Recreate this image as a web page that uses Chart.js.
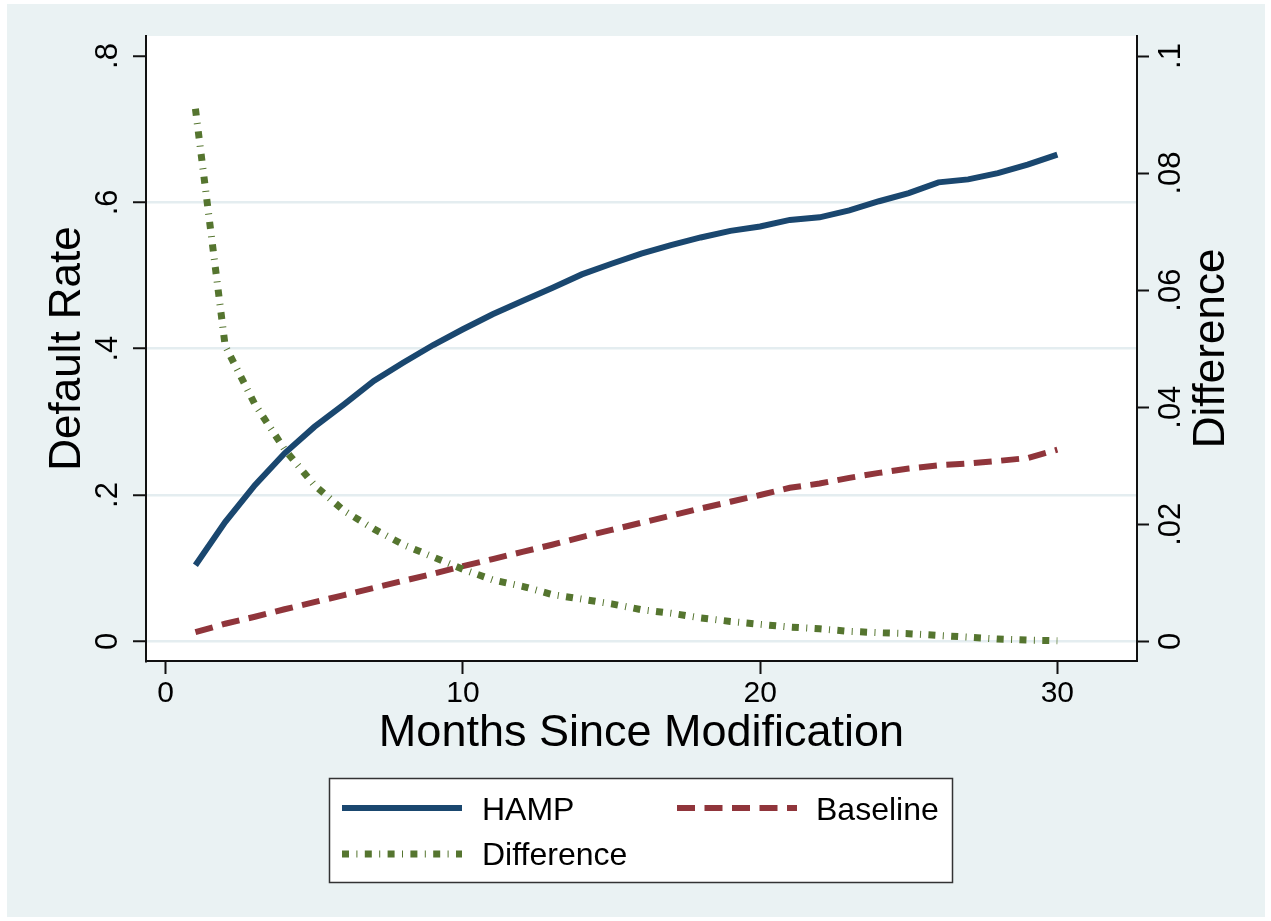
<!DOCTYPE html>
<html>
<head>
<meta charset="utf-8">
<title>Default Rate by Months Since Modification</title>
<script src="https://cdn.jsdelivr.net/npm/chart.js@4.4.1/dist/chart.umd.min.js"></script>
<style>
  html, body { margin: 0; padding: 0; background: #ffffff; }
  canvas { display: block; }
</style>
</head>
<body>
<canvas id="chart" width="1271" height="921"></canvas>
<script>
// Months since modification
const months = [1, 2, 3, 4, 5, 6, 7, 8, 9, 10, 11, 12, 13, 14, 15,
                16, 17, 18, 19, 20, 21, 22, 23, 24, 25, 26, 27, 28, 29, 30];

// Cumulative default rate, HAMP modifications (left axis)
const hamp = [0.104, 0.163, 0.2135, 0.257, 0.293, 0.324, 0.356, 0.381, 0.405, 0.4265,
              0.447, 0.465, 0.483, 0.5015, 0.516, 0.530, 0.5415, 0.552, 0.561, 0.567,
              0.576, 0.5795, 0.589, 0.6015, 0.6127, 0.6273, 0.6314, 0.640, 0.6515, 0.6652];

// Cumulative default rate, baseline (left axis)
const baseline = [0.0124, 0.024, 0.0335, 0.0438, 0.0535, 0.0632, 0.073, 0.0827, 0.0924, 0.1027,
                  0.1124, 0.1222, 0.132, 0.1424, 0.1522, 0.162, 0.1717, 0.1815, 0.1907, 0.200,
                  0.2098, 0.2156, 0.2234, 0.2302, 0.2361, 0.2405, 0.243, 0.2465, 0.2505, 0.262];

// Difference series (right axis)
const difference = [0.091, 0.0505, 0.0405, 0.0328, 0.0267, 0.0223, 0.0192, 0.0165, 0.0144, 0.0123,
                    0.0105, 0.0094, 0.0080, 0.0072, 0.0064, 0.0054, 0.0048, 0.0040, 0.0034, 0.0029,
                    0.00244, 0.00213, 0.0017, 0.00146, 0.0013, 0.0010, 0.0007, 0.0004, 0.0002, 0.0001];

// Axis ticks and their printed labels
const xTickValues = [0, 10, 20, 30];
const xTickLabels = ['0', '10', '20', '30'];
const leftTickValues = [0, 0.2, 0.4, 0.6, 0.8];
const leftTickLabels = ['0', '.2', '.4', '.6', '.8'];
const rightTickValues = [0, 0.02, 0.04, 0.06, 0.08, 0.1];
const rightTickLabels = ['0', '.02', '.04', '.06', '.08', '.1'];

// Titles and legend text
const xTitle = 'Months Since Modification';
const leftTitle = 'Default Rate';
const rightTitle = 'Difference';
const seriesNames = ['HAMP', 'Baseline', 'Difference'];

const FONT = '"Liberation Sans", Arial, Helvetica, sans-serif';
const PANEL_BG = '#eaf2f3';
const GRID = '#e4edf0';
const AXIS = '#111111';

const toPoints = (ys) => months.map((m, i) => ({ x: m, y: ys[i] }));

// Page background, panel and white plot region
const backdrop = {
  id: 'backdrop',
  beforeDraw(chart) {
    const { ctx, width, height, chartArea: a } = chart;
    ctx.save();
    ctx.fillStyle = '#ffffff';
    ctx.fillRect(0, 0, width, height);
    ctx.fillStyle = PANEL_BG;
    ctx.fillRect(7, 4, width - 13, height - 8);
    ctx.fillStyle = '#ffffff';
    ctx.fillRect(a.left, a.top, a.right - a.left, a.bottom - a.top);
    ctx.restore();
  }
};

function rotatedText(ctx, text, x, y) {
  ctx.save();
  ctx.translate(x, y);
  ctx.rotate(-Math.PI / 2);
  ctx.textAlign = 'center';
  ctx.textBaseline = 'alphabetic';
  ctx.fillText(text, 0, 0);
  ctx.restore();
}

// Tick labels, axis titles and the boxed legend
const annotations = {
  id: 'annotations',
  afterDraw(chart) {
    const { ctx, chartArea: a, scales } = chart;
    ctx.save();
    ctx.fillStyle = '#000000';

    ctx.font = '30px ' + FONT;
    ctx.textAlign = 'center';
    ctx.textBaseline = 'alphabetic';
    xTickValues.forEach((v, i) => {
      ctx.fillText(xTickLabels[i], scales.x.getPixelForValue(v), 702);
    });
    ctx.font = '31px ' + FONT;
    leftTickValues.forEach((v, i) => {
      rotatedText(ctx, leftTickLabels[i], 117, scales.y.getPixelForValue(v));
    });
    rightTickValues.forEach((v, i) => {
      rotatedText(ctx, rightTickLabels[i], 1180, scales.y1.getPixelForValue(v));
    });

    ctx.font = '44px ' + FONT;
    const midY = (a.top + a.bottom) / 2;
    rotatedText(ctx, leftTitle, 80, midY);
    rotatedText(ctx, rightTitle, 1224, midY);
    ctx.font = '45px ' + FONT;
    ctx.textAlign = 'center';
    ctx.fillText(xTitle, (a.left + a.right) / 2, 746);

    // legend box
    ctx.fillStyle = '#ffffff';
    ctx.fillRect(329, 778, 624, 105);
    ctx.strokeStyle = '#333333';
    ctx.lineWidth = 1.5;
    ctx.strokeRect(329.5, 778.5, 623, 104);

    const slots = [
      { x: 342, y: 808, tx: 482, ty: 820 },
      { x: 677, y: 808, tx: 816, ty: 820 },
      { x: 342, y: 854, tx: 482, ty: 865 }
    ];
    chart.data.datasets.forEach((ds, i) => {
      const s = slots[i];
      ctx.save();
      ctx.strokeStyle = ds.borderColor;
      ctx.lineWidth = ds.borderWidth;
      ctx.setLineDash(ds.borderDash || []);
      ctx.lineCap = 'butt';
      ctx.beginPath();
      ctx.moveTo(s.x, s.y);
      ctx.lineTo(s.x + 120, s.y);
      ctx.stroke();
      ctx.restore();
      ctx.fillStyle = '#000000';
      ctx.font = '32px ' + FONT;
      ctx.textAlign = 'left';
      ctx.textBaseline = 'alphabetic';
      ctx.fillText(ds.label, s.tx, s.ty);
    });
    ctx.restore();
  }
};

const fixedTicks = (values) => (scale) => {
  scale.ticks = values.map((v) => ({ value: v }));
};

new Chart(document.getElementById('chart'), {
  type: 'line',
  data: {
    datasets: [
      {
        label: seriesNames[0],
        data: toPoints(hamp),
        yAxisID: 'y',
        borderColor: '#1a476f',
        borderWidth: 6,
        order: 3
      },
      {
        label: seriesNames[1],
        data: toPoints(baseline),
        yAxisID: 'y',
        borderColor: '#90353b',
        borderWidth: 6,
        borderDash: [18, 9.5],
        order: 2
      },
      {
        label: seriesNames[2],
        data: toPoints(difference),
        yAxisID: 'y1',
        borderColor: '#55752f',
        borderWidth: 7,
        borderDash: [7, 7.4, 1, 7.4],
        order: 1
      }
    ]
  },
  options: {
    responsive: false,
    devicePixelRatio: 1,
    animation: false,
    events: [],
    layout: { padding: { left: 133, top: 36, right: 122, bottom: 247 } },
    elements: {
      point: { radius: 0 },
      line: { tension: 0, fill: false, borderCapStyle: 'butt', borderJoinStyle: 'miter' }
    },
    plugins: {
      legend: { display: false },
      tooltip: { enabled: false },
      title: { display: false }
    },
    scales: {
      x: {
        type: 'linear',
        position: 'bottom',
        min: -0.663,
        max: 32.68,
        afterBuildTicks: fixedTicks(xTickValues),
        ticks: { display: false },
        grid: {
          drawOnChartArea: false,
          drawTicks: true,
          tickLength: 13,
          tickColor: AXIS,
          tickWidth: 2
        },
        border: { display: true, color: AXIS, width: 2 }
      },
      y: {
        type: 'linear',
        position: 'left',
        min: -0.02693,
        max: 0.82737,
        afterBuildTicks: fixedTicks(leftTickValues),
        ticks: { display: false },
        grid: {
          drawOnChartArea: true,
          color: (c) => (c.tick && c.tick.value >= 0.8 ? 'rgba(0,0,0,0)' : GRID),
          lineWidth: 2.5,
          drawTicks: true,
          tickLength: 13,
          tickColor: AXIS,
          tickWidth: 2
        },
        border: { display: true, color: AXIS, width: 2 }
      },
      y1: {
        type: 'linear',
        position: 'right',
        min: -0.003366,
        max: 0.103421,
        afterBuildTicks: fixedTicks(rightTickValues),
        ticks: { display: false },
        grid: {
          drawOnChartArea: false,
          drawTicks: true,
          tickLength: 12,
          tickColor: AXIS,
          tickWidth: 2
        },
        border: { display: true, color: AXIS, width: 2 }
      }
    }
  },
  plugins: [backdrop, annotations]
});
</script>
</body>
</html>
